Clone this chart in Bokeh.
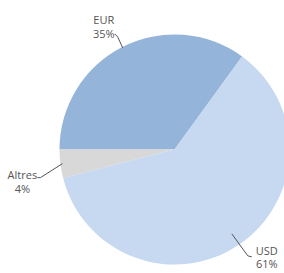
import math
from bokeh.plotting import figure
from bokeh.models import Range1d, ColumnDataSource
from bokeh.embed import file_html
from bokeh.resources import INLINE
from bokeh.core.properties import value

# ---- data ----
currencies = ["EUR", "Altres", "USD"]
shares = [35, 4, 61]
pct_labels = ["35%", "4%", "61%"]
colors = ["#95b4d9", "#d8d8d8", "#c6d9f0"]

W, H = 284, 273
p = figure(width=W, height=H, output_backend="svg", toolbar_location=None,
           x_range=Range1d(0, W), y_range=Range1d(0, H),
           min_border=0, outline_line_color=None)
p.axis.visible = False
p.grid.visible = False
p.background_fill_color = "white"
p.border_fill_color = "white"

cx, cy, R = 174, 124, 115
start_deg = 54.0

starts, ends, mids = [], [], []
a = start_deg
total = sum(shares)
for s in shares:
    b = a + 360.0 * s / total
    starts.append(math.radians(a))
    ends.append(math.radians(b))
    mids.append((a + b) / 2)
    a = b

src = ColumnDataSource(dict(start=starts, end=ends, color=colors))
p.wedge(x=cx, y=cy, radius=R, start_angle="start", end_angle="end",
        fill_color="color", line_color=None, source=src)

# label layout (screen-pixel offsets, styling only)
layout = {
    "EUR": dict(r0=114, elbow=(-5, 11), hook=(-3, 3), text=(-11, 7), gap=7),
    "Altres": dict(r0=113, elbow=(-22, -14), hook=(-3, 0), text=(-15, -4), gap=7),
    "USD": dict(r0=102, elbow=(16, -22), hook=(4, -1), text=(15, 0), gap=6.5),
}

font = value("Open Sans")
for name, pct, mid in zip(currencies, pct_labels, mids):
    L = layout[name]
    x0 = cx + L["r0"] * math.cos(math.radians(mid))
    y0 = cy + L["r0"] * math.sin(math.radians(mid))
    x1, y1 = x0 + L["elbow"][0], y0 + L["elbow"][1]
    x2, y2 = x1 + L["hook"][0], y1 + L["hook"][1]
    p.line([x0, x1, x2], [y0, y1, y2], line_color="#555555", line_width=1)
    tx, ty = x2 + L["text"][0], y2 + L["text"][1]
    p.text(x=[tx], y=[ty + L["gap"]], text=[name], text_font=font,
           text_font_size="11px", text_color="#555555",
           text_align="center", text_baseline="middle")
    p.text(x=[tx], y=[ty - L["gap"]], text=[pct], text_font=font,
           text_font_size="11px", text_color="#555555",
           text_align="center", text_baseline="middle")

open("out.html", "w").write(file_html(p, INLINE))
